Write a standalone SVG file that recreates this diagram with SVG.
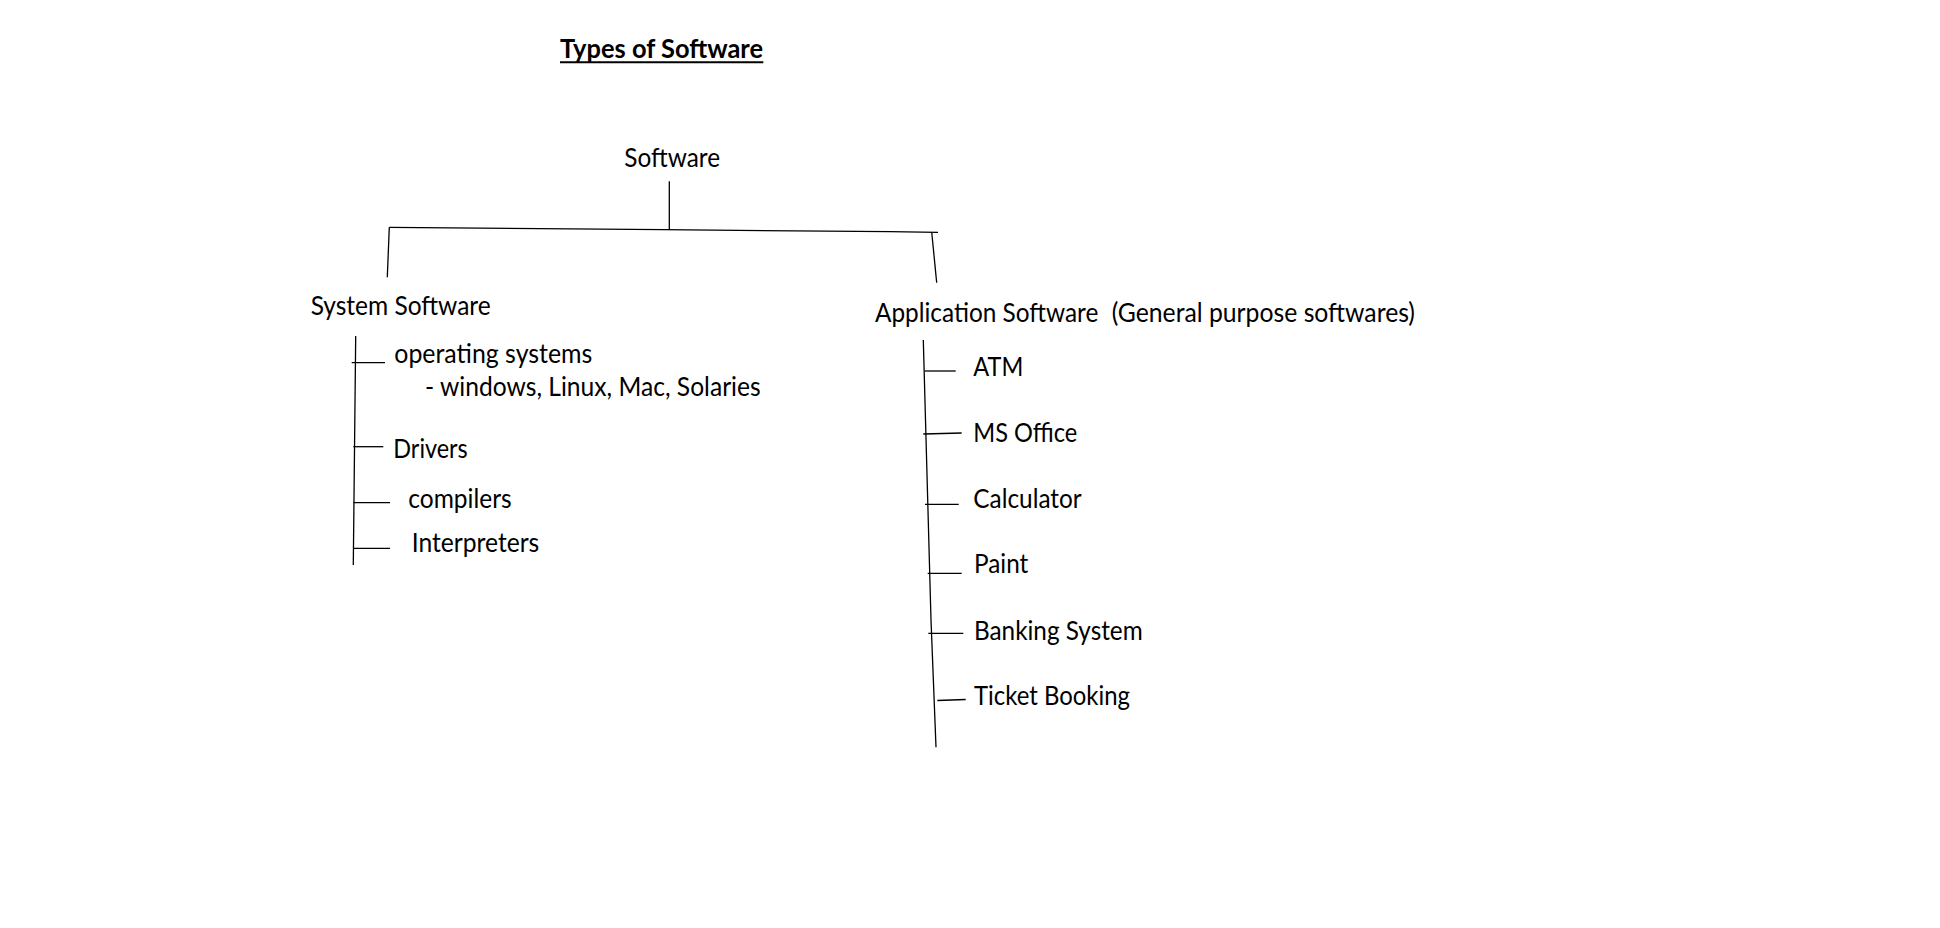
<svg xmlns="http://www.w3.org/2000/svg" width="1940" height="928" viewBox="0 0 1940 928">
<style>
  .t { font-family: Lato, "Open Sans", "Liberation Sans", sans-serif; font-size: 26.5px; fill: #000; }
  .title { font-weight: bold; font-size: 27px; }
  .c { fill: none; stroke: #000; stroke-width: 1.3; }
</style>
<rect width="1940" height="928" fill="#fff"/>
<g id="title">
  <text class="t title" x="560" y="58.3" textLength="203" lengthAdjust="spacingAndGlyphs">Types of Software</text>
  <line x1="560" y1="62.3" x2="763.3" y2="62.3" stroke="#000" stroke-width="2"/>
</g>
<g id="connectors">
  <path class="c" d="M669.3 181.3 V230"/>
  <path class="c" d="M389.3 227.3 L663 229.7 L890 231.7 L938 232.3"/>
  <path class="c" d="M389.3 227.3 L387.3 277.3"/>
  <path class="c" d="M931.7 232 L936.7 282.7"/>
  <path class="c" d="M355.7 336 L353.3 565"/>
  <path class="c" d="M351.7 362.7 H385"/>
  <path class="c" d="M353.3 446.7 H383.3"/>
  <path class="c" d="M353.3 502.7 H390"/>
  <path class="c" d="M353 548.3 H390"/>
  <path class="c" d="M923.3 340 L931 620 L936 747.3"/>
  <path class="c" d="M924.7 371 H955.7"/>
  <path class="c" d="M923.3 434 L961.7 433"/>
  <path class="c" d="M925 504.3 H958.7"/>
  <path class="c" d="M927.7 573.3 H961.7"/>
  <path class="c" d="M928.3 633.3 H963.3"/>
  <path class="c" d="M937.3 700.5 L965.7 699.5"/>
</g>
<g id="software"><text class="t" x="624.3" y="166.7" textLength="95.7" lengthAdjust="spacingAndGlyphs">Software</text></g>
<g id="system-software"><text class="t" x="310.7" y="315" textLength="180" lengthAdjust="spacingAndGlyphs">System Software</text></g>
<g id="application-software"><text class="t" y="321.7"><tspan x="875" textLength="223.3" lengthAdjust="spacingAndGlyphs">Application Software</tspan><tspan x="1111.7" textLength="303.3" lengthAdjust="spacingAndGlyphs">(General purpose softwares)</tspan></text></g>
<g id="operating-systems">
  <text class="t" x="394.3" y="363.3" textLength="198" lengthAdjust="spacingAndGlyphs">operating systems</text>
  <text class="t" x="425" y="396" textLength="335.7" lengthAdjust="spacingAndGlyphs">- windows, Linux, Mac, Solaries</text>
</g>
<g id="drivers"><text class="t" x="393.3" y="457.7" textLength="74.4" lengthAdjust="spacingAndGlyphs">Drivers</text></g>
<g id="compilers"><text class="t" x="408.3" y="508.3" textLength="103.4" lengthAdjust="spacingAndGlyphs">compilers</text></g>
<g id="interpreters"><text class="t" x="411.7" y="551.7" textLength="127.6" lengthAdjust="spacingAndGlyphs">Interpreters</text></g>
<g id="atm"><text class="t" x="973.3" y="375.7" textLength="50" lengthAdjust="spacingAndGlyphs">ATM</text></g>
<g id="ms-office"><text class="t" x="973.3" y="441.7" textLength="104" lengthAdjust="spacingAndGlyphs">MS Office</text></g>
<g id="calculator"><text class="t" x="973.3" y="507.7" textLength="108.4" lengthAdjust="spacingAndGlyphs">Calculator</text></g>
<g id="paint"><text class="t" x="974" y="573.3" textLength="54.3" lengthAdjust="spacingAndGlyphs">Paint</text></g>
<g id="banking-system"><text class="t" x="974" y="640" textLength="168.7" lengthAdjust="spacingAndGlyphs">Banking System</text></g>
<g id="ticket-booking"><text class="t" x="974" y="705" textLength="156" lengthAdjust="spacingAndGlyphs">Ticket Booking</text></g>
</svg>
